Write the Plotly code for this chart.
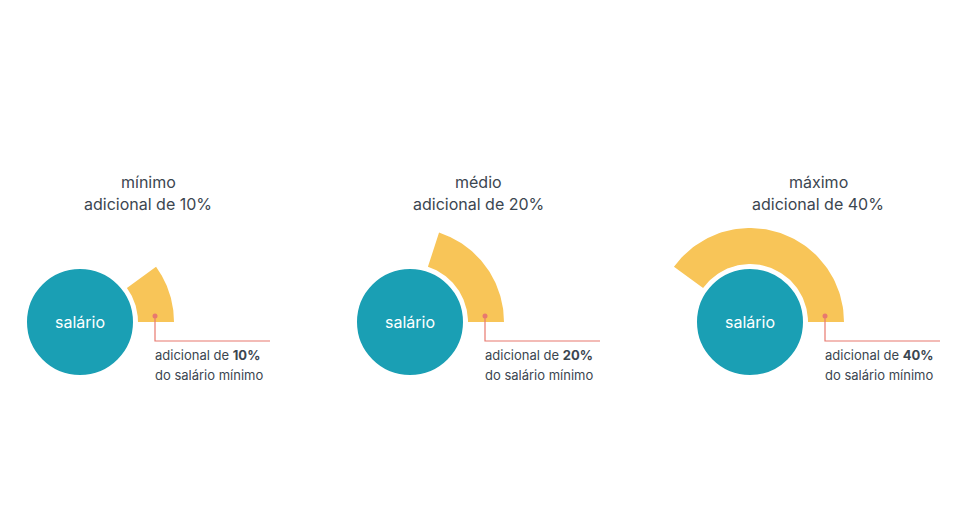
import numpy as np
import plotly.graph_objects as go

# data
levels = ["mínimo", "médio", "máximo"]
percents = [10, 20, 40]
center_label = "salário"
title_text = "Adicional de insalubridade"

TEAL = "#1a9fb4"
YELLOW = "#f8c558"
RED = "#e8796f"
DARK = "#3b4650"

cx_list = [80, 410, 750]
cy = 322
r_circle = 55
r_in, r_out = 58, 94

fig = go.Figure()
shapes = []
annotations = []

for cx, lvl, pct in zip(cx_list, levels, percents):
    # yellow annular wedge from 0 deg counterclockwise
    sweep = np.radians(pct / 100 * 360)
    t = np.linspace(0, sweep, 80)
    xs = np.concatenate([cx + r_out * np.cos(t), cx + r_in * np.cos(t[::-1])])
    ys = np.concatenate([cy - r_out * np.sin(t), cy - r_in * np.sin(t[::-1])])
    fig.add_trace(go.Scatter(x=xs, y=ys, fill="toself", fillcolor=YELLOW,
                             mode="lines", line=dict(width=0), hoverinfo="skip"))

    # salary circle with white rim
    shapes.append(dict(type="circle", xref="x", yref="y",
                       x0=cx - r_circle, x1=cx + r_circle,
                       y0=cy - r_circle, y1=cy + r_circle,
                       fillcolor=TEAL, line=dict(color="white", width=4)))

    # pointer
    px, py = cx + 75, cy - 6
    fig.add_trace(go.Scatter(x=[px, px, cx + 190], y=[py, cy + 19, cy + 19],
                             mode="lines", line=dict(color=RED, width=1.2),
                             hoverinfo="skip"))
    fig.add_trace(go.Scatter(x=[px], y=[py], mode="markers",
                             marker=dict(color=RED, size=5), hoverinfo="skip"))

    annotations += [
        dict(x=cx, y=cy, text=center_label, font=dict(size=16, color="white")),
        dict(x=cx + 68, y=182, text=lvl, font=dict(size=16, color=DARK)),
        dict(x=cx + 68, y=204, text=f"adicional de {pct}%", font=dict(size=16, color=DARK)),
        dict(x=px - 2, y=355, xanchor="left", align="left",
             text=f"adicional de <b>{pct}%</b>", font=dict(size=13, color=DARK)),
        dict(x=px - 2, y=375, xanchor="left", align="left",
             text="do salário mínimo", font=dict(size=13, color=DARK)),
    ]

annotations.append(dict(x=2, y=127, xanchor="left", text=title_text,
                        font=dict(size=22, color=DARK)))
for a in annotations:
    a.update(xref="x", yref="y", showarrow=False)

# the page body adds an 8px margin, so shift the visible range to compensate
fig.update_layout(
    width=966, height=507,
    margin=dict(l=0, r=0, t=0, b=0),
    paper_bgcolor="white", plot_bgcolor="white",
    showlegend=False,
    font=dict(family="Inter, Roboto, sans-serif"),
    shapes=shapes, annotations=annotations,
    xaxis=dict(range=[8, 974], visible=False, fixedrange=True),
    yaxis=dict(range=[515, 8], visible=False, fixedrange=True),
)

fig.write_html("out.html")
